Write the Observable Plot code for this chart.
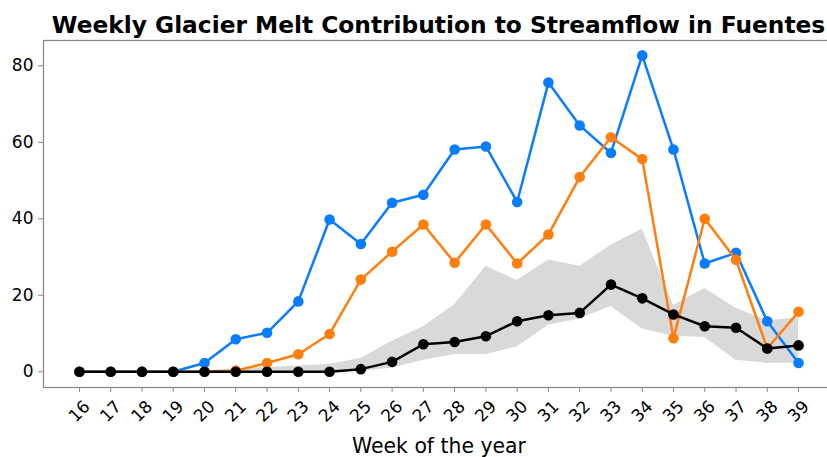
<!DOCTYPE html>
<html>
<head>
<meta charset="utf-8">
<script src="https://cdn.jsdelivr.net/npm/d3@7"></script>
<script src="https://cdn.jsdelivr.net/npm/@observablehq/plot@0.6"></script>
<style>
  html, body { margin: 0; padding: 0; background: #fff; overflow: hidden; }
  #wrap { position: relative; width: 877px; height: 457px; font-family: "DejaVu Sans", sans-serif; }
  #title { position: absolute; left: 0; top: 10.5px; width: 877px; text-align: center;
           font: bold 23.3px "DejaVu Sans", sans-serif; line-height: normal; color: #000; white-space: nowrap; }
</style>
</head>
<body>
<div id="wrap">
  <div id="chart"></div>
  <div id="title">Weekly Glacier Melt Contribution to Streamflow in Fuentes</div>
</div>
<script>
const weeks = [16,17,18,19,20,21,22,23,24,25,26,27,28,29,30,31,32,33,34,35,36,37,38,39];
const blueSeries = [0,0,0,0,2.3,8.5,10.2,18.4,39.8,33.4,44.2,46.3,58.1,58.9,44.4,75.6,64.4,57.2,82.7,58.1,28.3,31.1,13.2,2.3];
const orangeSeries = [0,0,0,0,0,0.3,2.3,4.6,9.9,24.1,31.4,38.5,28.5,38.5,28.3,35.9,50.9,61.3,55.6,8.8,40.0,29.3,6.1,15.7];
const blackSeries = [0,0,0,0,0,0,0,0,0,0.7,2.6,7.2,7.8,9.3,13.2,14.8,15.4,22.8,19.2,15.0,11.9,11.5,6.1,6.9];
const bandHigh = [0,0,0,0,0.3,0.8,1.1,1.5,2.0,3.5,8.0,11.8,17.5,27.6,23.9,29.2,27.6,33.1,37.3,17.4,21.8,16.6,13.3,14.2];
const bandLow = [0,0,0,0,0,0,0,0,0,0.2,0.9,3.0,4.5,4.5,6.5,12.2,13.8,17.1,11.2,9.3,9.0,3.0,2.2,2.3];
const yTicks = [0,20,40,60,80];
const xLabel = "Week of the year";

const band = weeks.map((w, i) => ({week: w, lo: bandLow[i], hi: bandHigh[i]}));
const mk = (arr) => weeks.map((w, i) => ({week: w, value: arr[i]}));
const blue = mk(blueSeries), orange = mk(orangeSeries), black = mk(blackSeries);

const lineStyle = (color) => [
  Plot.line(color.data, {x: "week", y: "value", stroke: color.c, strokeWidth: 2.5}),
  Plot.dot(color.data, {x: "week", y: "value", fill: color.c, r: 5.3})
];

const chart = Plot.plot({
  width: 877,
  height: 457,
  marginTop: 40,
  marginBottom: 70,
  marginLeft: 43,
  marginRight: 43,
  style: {fontFamily: "DejaVu Sans, sans-serif", background: "white", color: "black"},
  x: {type: "linear", domain: [14.85, 40.15]},
  y: {domain: [-4.1, 86.6]},
  marks: [
    Plot.areaY(band, {x: "week", y1: "lo", y2: "hi", fill: "#d9d9d9"}),
    ...lineStyle({data: blue, c: "#0a7cff"}),
    ...lineStyle({data: orange, c: "#ff7f0e"}),
    ...lineStyle({data: black, c: "#000000"}),
    Plot.frame({stroke: "#8a8a8a", strokeWidth: 1.3}),
    Plot.axisY({ticks: yTicks, tickSize: 5, tickPadding: 5, fontSize: 17, stroke: "#8a8a8a", fill: "black", label: null}),
    Plot.axisX({ticks: weeks, tickFormat: "d", tickSize: 5, tickRotate: -45, textAnchor: "middle", lineAnchor: "middle",
                tickPadding: 19, fontSize: 17, stroke: "#8a8a8a", fill: "black", label: null}),
    Plot.text([xLabel], {frameAnchor: "bottom", text: d => d, dy: 59, fontSize: 20.4, lineAnchor: "middle", fill: "black"})
  ]
});
document.getElementById("chart").appendChild(chart);
</script>
</body>
</html>
